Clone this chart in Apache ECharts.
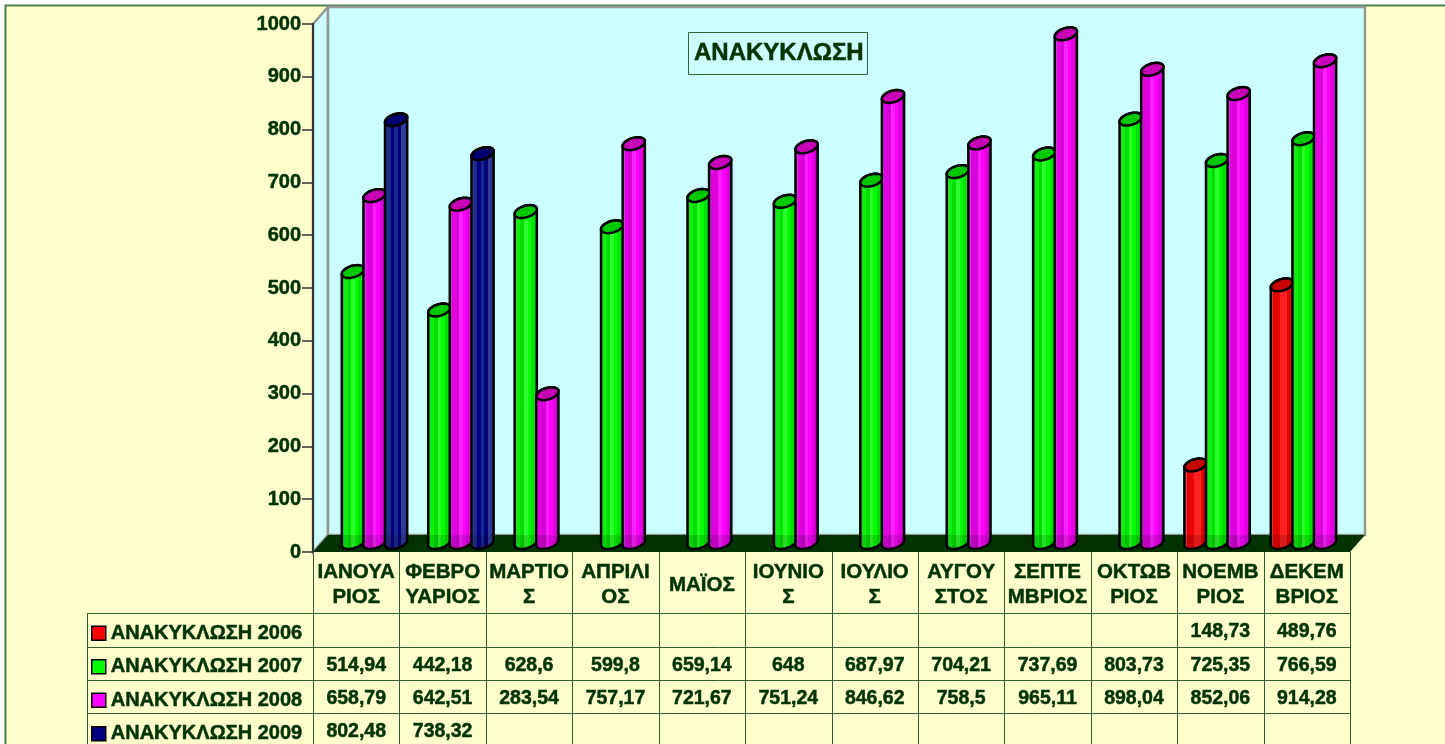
<!DOCTYPE html>
<html>
<head>
<meta charset="utf-8">
<title>ΑΝΑΚΥΚΛΩΣΗ</title>
<script src="https://cdn.jsdelivr.net/npm/echarts@6/dist/echarts.min.js"></script>
<style>
html, body { margin: 0; padding: 0; background: #fff; overflow: hidden; }
#chart { width: 1445px; height: 744px; }
</style>
</head>
<body>
<div id="chart"></div>
<script>
var categories = ['ΙΑΝΟΥΑ\nΡΙΟΣ', 'ΦΕΒΡΟ\nΥΑΡΙΟΣ', 'ΜΑΡΤΙΟ\nΣ', 'ΑΠΡΙΛΙ\nΟΣ', 'ΜΑΪΟΣ', 'ΙΟΥΝΙΟ\nΣ',
	'ΙΟΥΛΙΟ\nΣ', 'ΑΥΓΟΥ\nΣΤΟΣ', 'ΣΕΠΤΕ\nΜΒΡΙΟΣ', 'ΟΚΤΩΒ\nΡΙΟΣ', 'ΝΟΕΜΒ\nΡΙΟΣ', 'ΔΕΚΕΜ\nΒΡΙΟΣ'];
var seriesNames = ['ΑΝΑΚΥΚΛΩΣΗ 2006', 'ΑΝΑΚΥΚΛΩΣΗ 2007', 'ΑΝΑΚΥΚΛΩΣΗ 2008', 'ΑΝΑΚΥΚΛΩΣΗ 2009'];
var values2006 = [null, null, null, null, null, null, null, null, null, null, 148.73, 489.76];
var values2007 = [514.94, 442.18, 628.6, 599.8, 659.14, 648, 687.97, 704.21, 737.69, 803.73, 725.35, 766.59];
var values2008 = [658.79, 642.51, 283.54, 757.17, 721.67, 751.24, 846.62, 758.5, 965.11, 898.04, 852.06, 914.28];
var values2009 = [802.48, 738.32, null, null, null, null, null, null, null, null, null, null];
var allValues = [values2006, values2007, values2008, values2009];

var TEXT = '#003300';
var FONT = '"Liberation Sans", Arial, sans-serif';
var HEAVY = 0.5;
var GRID = { left: 313, top: 24, right: 1350, bottom: 552 };
var DEPTH_X = 15, DEPTH_Y = 17;
var TABLE_LEFT = 87;
var ROW_LINES = [613, 647, 680, 713, 746];

var baseColors = ['#ff0000', '#00ff00', '#ff00ff', '#000080'];
var capColors = ['#c80000', '#00c800', '#c800b8', '#000070'];
// left-to-right shading of each cylinder
var shades = [
	['#d04040', '#e80000', '#e80000', '#ff2020', '#ff2020', '#e00000', '#c80000'],
	['#30d030', '#10f010', '#00e000', '#30ff30', '#00ff00', '#00e000', '#00c800'],
	['#c840d0', '#e000e0', '#d800d8', '#ff20ff', '#ff00ff', '#e000e0', '#c000c0'],
	['#303c98', '#202c88', '#000080', '#1c2a90', '#000078', '#303c98', '#283490']
];

function shadeFill(s) {
	var list = shades[s], stops = [];
	list.forEach(function (c, i) {
		stops.push({ offset: i / list.length, color: c });
		stops.push({ offset: (i + 1) / list.length, color: c });
	});
	return { type: 'linear', x: 0, y: 0, x2: 1, y2: 0, colorStops: stops };
}

// part of a tilted ellipse, angles in radians
function arcPoints(cx, cy, rx, ry, from, to) {
	var tilt = -17 * Math.PI / 180, pts = [];
	for (var i = 0; i <= 16; i++) {
		var a = from + (to - from) * i / 16;
		var px = rx * Math.cos(a), py = ry * Math.sin(a);
		pts.push([cx + px * Math.cos(tilt) - py * Math.sin(tilt), cy + px * Math.sin(tilt) + py * Math.cos(tilt)]);
	}
	return pts;
}

function cylinder(s) {
	return function (params, api) {
		var v = api.value(1);
		if (v == null || isNaN(v)) return;
		var band = api.size([1, 0])[0];
		var w = band / 4;
		var top = api.coord([api.value(0), v]);
		var base = api.coord([api.value(0), 0]);
		var cx = top[0] - band / 2 + (s + 0.5) * w + DEPTH_X / 2;
		var topY = top[1] - DEPTH_Y / 2;
		var baseY = base[1] - DEPTH_Y / 2 - 1;
		var rx = w / 2 + 0.8, ry = 5.8;
		var lower = arcPoints(cx, baseY, rx, ry, Math.PI, 0);
		var body = lower.concat(arcPoints(cx, topY, rx, ry, 0, -Math.PI));
		var cap = arcPoints(cx, topY, rx, ry, 0, Math.PI * 2);
		// part standing in front of the floor looks a bit darker
		var wallFoot = base[1] - DEPTH_Y;
		var foot = lower.concat([[lower[16][0], wallFoot], [lower[0][0], wallFoot]]);
		return {
			type: 'group',
			children: [
				{ type: 'polygon', shape: { points: body }, style: { fill: shadeFill(s), stroke: '#000', lineWidth: 2.5 } },
				{ type: 'polygon', shape: { points: foot }, style: { fill: 'rgba(0,0,0,0.14)' } },
				{ type: 'polygon', shape: { points: cap }, style: { fill: capColors[s], stroke: '#000', lineWidth: 2.5 } }
			]
		};
	};
}

function walls(params, api) {
	var c = params.coordSys;
	var r = c.x + c.width, b = c.y + c.height;
	var wallStyle = { fill: '#ccffff', stroke: '#969696', lineWidth: 2.5 };
	return {
		type: 'group',
		children: [
			{ type: 'polygon', shape: { points: [[c.x, c.y], [c.x + DEPTH_X, c.y - DEPTH_Y], [c.x + DEPTH_X, b - DEPTH_Y], [c.x, b]] }, style: wallStyle },
			{ type: 'rect', shape: { x: c.x + DEPTH_X, y: c.y - DEPTH_Y, width: c.width, height: c.height }, style: wallStyle },
			{ type: 'polygon', shape: { points: [[c.x, b], [c.x + DEPTH_X, b - DEPTH_Y], [r + DEPTH_X, b - DEPTH_Y], [r, b]] }, style: { fill: '#003300', stroke: '#969696', lineWidth: 0 } }
		]
	};
}

function formatValue(v) {
	return String(v).replace('.', ',');
}

// page frame and the data table under the axis
function tableGraphics() {
	var list = [{
		type: 'rect', z: -10,
		shape: { x: 5.5, y: 5.5, width: 1500, height: 800 },
		style: { fill: '#ffffcc', stroke: '#4f7f4f', lineWidth: 2 }
	}];
	var colW = (GRID.right - GRID.left) / categories.length;
	var lineStyle = { stroke: '#2f5f2f', lineWidth: 1 };
	ROW_LINES.forEach(function (y) {
		list.push({ type: 'line', shape: { x1: TABLE_LEFT, y1: y + 0.5, x2: GRID.right, y2: y + 0.5 }, style: lineStyle });
	});
	list.push({ type: 'line', shape: { x1: TABLE_LEFT + 0.5, y1: ROW_LINES[0], x2: TABLE_LEFT + 0.5, y2: 744 }, style: lineStyle });
	for (var k = 0; k <= categories.length; k++) {
		var x = Math.round(GRID.left + k * colW) + 0.5;
		list.push({ type: 'line', shape: { x1: x, y1: GRID.bottom, x2: x, y2: 744 }, style: lineStyle });
	}
	allValues.forEach(function (vals, r) {
		vals.forEach(function (v, i) {
			if (v == null) return;
			list.push({
				type: 'text',
				x: GRID.left + (i + 0.5) * colW,
				y: (ROW_LINES[r] + ROW_LINES[r + 1]) / 2 + 2,
				style: {
					text: formatValue(v), fill: TEXT, font: 'bold 19.5px ' + FONT,
					stroke: TEXT, lineWidth: HEAVY, textAlign: 'center', textVerticalAlign: 'middle'
				}
			});
		});
	});
	return list;
}

var chart = echarts.init(document.getElementById('chart'), null, { renderer: 'canvas' });

var series = [{
	type: 'custom',
	name: 'walls',
	silent: true,
	z: 0,
	data: [[0, 0]],
	clip: false,
	renderItem: walls
}];
allValues.forEach(function (vals, s) {
	series.push({
		type: 'custom',
		name: seriesNames[s],
		z: 2,
		clip: false,
		itemStyle: { color: baseColors[s] },
		data: vals.map(function (v, i) { return [i, v]; }),
		encode: { x: 0, y: 1 },
		renderItem: cylinder(s)
	});
});

var option = {
	backgroundColor: '#ffffff',
	animation: false,
	tooltip: { show: false },
	title: {
		text: 'ΑΝΑΚΥΚΛΩΣΗ',
		left: 688,
		top: 32,
		padding: [9, 4, 9, 6],
		borderColor: '#336633',
		borderWidth: 1,
		textStyle: { color: TEXT, fontFamily: FONT, fontWeight: 'bold', fontSize: 24, lineHeight: 25, textBorderColor: TEXT, textBorderWidth: HEAVY }
	},
	legend: {
		orient: 'vertical',
		left: 91,
		top: 623,
		padding: 0,
		selectedMode: false,
		icon: 'rect',
		itemWidth: 14,
		itemHeight: 14,
		itemGap: 13,
		itemStyle: { borderColor: '#000', borderWidth: 1.5 },
		data: seriesNames,
		textStyle: { color: TEXT, fontFamily: FONT, fontWeight: 'bold', fontSize: 20, textBorderColor: TEXT, textBorderWidth: HEAVY }
	},
	grid: {
		left: GRID.left,
		top: GRID.top,
		width: GRID.right - GRID.left,
		height: GRID.bottom - GRID.top
	},
	xAxis: {
		type: 'category',
		data: categories,
		z: 3,
		axisLine: { show: false },
		axisTick: { show: false },
		axisLabel: {
			interval: 0,
			margin: 33,
			verticalAlign: 'middle',
			color: TEXT,
			fontFamily: FONT,
			fontWeight: 'bold',
			fontSize: 20.5,
			lineHeight: 25,
			textBorderColor: TEXT,
			textBorderWidth: HEAVY
		}
	},
	yAxis: {
		type: 'value',
		min: 0,
		max: 1000,
		interval: 100,
		z: 3,
		splitLine: { show: false },
		axisLine: { show: true, lineStyle: { color: '#333', width: 2 } },
		axisTick: { show: true, length: 11, lineStyle: { color: '#333', width: 1.5 } },
		axisLabel: {
			margin: 12,
			color: TEXT,
			fontFamily: FONT,
			fontWeight: 'bold',
			fontSize: 20,
			textBorderColor: TEXT,
			textBorderWidth: HEAVY,
			formatter: function (v) { return String(v); }
		}
	},
	graphic: tableGraphics(),
	series: series
};
chart.setOption(option);
</script>
</body>
</html>
